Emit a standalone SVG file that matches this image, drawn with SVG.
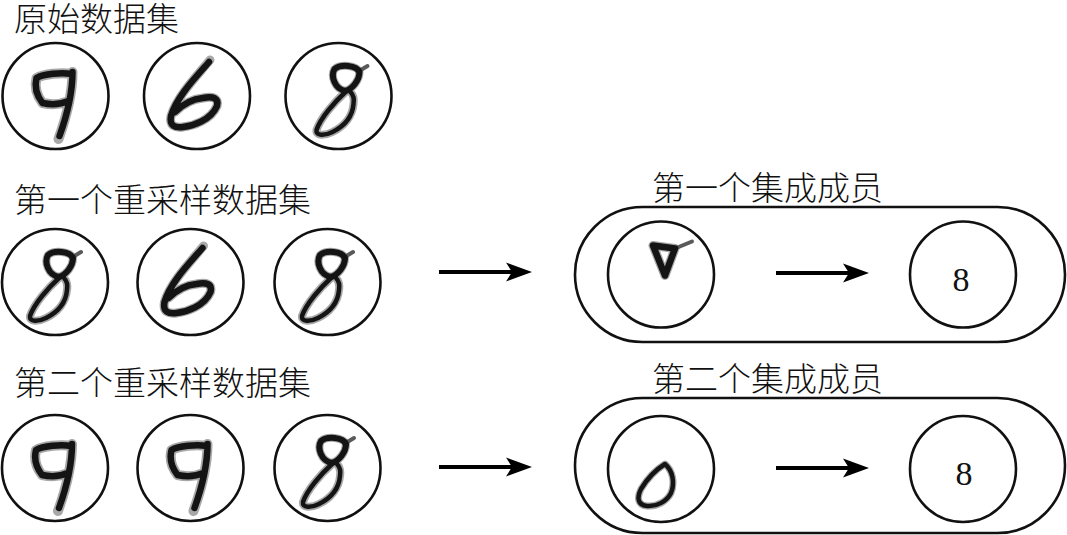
<svg xmlns="http://www.w3.org/2000/svg" xmlns:xlink="http://www.w3.org/1999/xlink" width="1067" height="535" viewBox="0 0 1067 535">
<style>
  .lbl { font-family: "Noto Sans CJK SC", "Noto Sans", sans-serif; font-size: 33px; font-weight: 300; fill: #111; }
  .num { font-family: "Liberation Serif", "Times New Roman", serif; font-size: 34px; fill: #111; text-anchor: middle; }
  .ring { fill: #fff; stroke: #111; stroke-width: 2.6; }
  .pill { fill: #fff; stroke: #111; stroke-width: 2.6; }
  .edge { stroke: #000; stroke-width: 4; fill: none; }
  .ink { fill: none; stroke: #141414; stroke-linecap: round; stroke-linejoin: round; }
  .blur { fill: none; stroke: #a8a8a8; stroke-linecap: round; stroke-linejoin: round; }
  .tail { fill: none; stroke: #5a5a5a; stroke-linecap: round; stroke-width: 4; }
</style>
<defs>
  <marker id="arrow" markerUnits="userSpaceOnUse" viewBox="0 0 26 20" markerWidth="26" markerHeight="20" refX="6" refY="10" orient="auto">
    <path d="M0,0.5 L26,10 L0,19.5 L6,10 Z" fill="#000"/>
  </marker>
  <g id="d9">
    <path class="blur" stroke-width="10" d="M16,-22 C6,-24 -12,-22 -19,-18 C-21,-10 -20,-2 -13,7 C-4,9 6,8 13,5 M17,-24 C17,-5 13,15 3,43"/>
    <path class="ink" stroke-width="6.5" d="M16,-22 C6,-24 -12,-22 -19,-18 C-21,-10 -20,-2 -13,7 C-4,9 6,8 13,5 M17,-24 C17,-5 13,15 4,40"/>
  </g>
  <g id="d6">
    <path class="blur" stroke-width="9" d="M13,-36 C0,-20 -20,0 -26,20 C-28,30 -22,32 -14,31 C-4,30 14,24 20,10 C22,2 16,0 6,2 C-4,3 -14,8 -22,16"/>
    <path class="ink" stroke-width="6.5" d="M12,-34 C0,-20 -20,0 -26,20 C-28,30 -22,32 -14,31 C-4,30 14,24 20,10 C22,2 16,0 6,2 C-4,3 -14,8 -22,16"/>
  </g>
  <g id="d8">
    <path class="blur" stroke-width="8" d="M7,-5 C-4,-7 -8,-20 -4,-27 C2,-32 18,-31 21,-24 C21,-16 14,-7 7,-5 Z M7,-4 C-4,6 -18,22 -22,34 C-23,40 -14,40 -6,36 C6,30 14,20 15,8 C16,2 14,-2 12,-4"/>
    <path class="tail" d="M19,-24 L29,-30"/>
    <path class="ink" stroke-width="6" d="M7,-5 C-4,-7 -8,-20 -4,-27 C2,-32 18,-31 21,-24 C21,-16 14,-7 7,-5 Z"/>
    <path class="ink" stroke-width="4.5" d="M7,-4 C-4,6 -18,22 -22,34 C-23,40 -14,40 -6,36 C6,30 14,20 15,8 C16,2 14,-2 12,-4"/>
  </g>
</defs>

<rect width="1067" height="535" fill="#fff"/>

<g id="labels">
  <text class="lbl" x="14" y="31">原始数据集</text>
  <text class="lbl" x="14" y="212">第一个重采样数据集</text>
  <text class="lbl" x="14" y="395">第二个重采样数据集</text>
  <text class="lbl" x="652" y="200">第一个集成成员</text>
  <text class="lbl" x="652" y="391">第二个集成成员</text>
</g>

<g id="original-1"><circle class="ring" cx="55.5" cy="96" r="53"/><use xlink:href="#d9" transform="translate(55.5,96)"/></g>
<g id="original-2"><circle class="ring" cx="197" cy="96" r="53"/><use xlink:href="#d6" transform="translate(197,96)"/></g>
<g id="original-3"><circle class="ring" cx="338.5" cy="96" r="53"/><use xlink:href="#d8" transform="translate(338.5,96)"/></g>

<g id="resample1-1"><circle class="ring" cx="55" cy="282" r="53"/><use xlink:href="#d8" transform="translate(52,282)"/></g>
<g id="resample1-2"><circle class="ring" cx="190.5" cy="282" r="53"/><use xlink:href="#d6" transform="translate(190.5,282)"/></g>
<g id="resample1-3"><circle class="ring" cx="327.5" cy="282" r="53"/><use xlink:href="#d8" transform="translate(324,282)"/></g>

<g id="resample2-1"><circle class="ring" cx="55" cy="468" r="53"/><use xlink:href="#d9" transform="translate(55,468)"/></g>
<g id="resample2-2"><circle class="ring" cx="190.5" cy="468" r="53"/><use xlink:href="#d9" transform="translate(190.5,468)"/></g>
<g id="resample2-3"><circle class="ring" cx="327.5" cy="468" r="53"/><use xlink:href="#d8" transform="translate(325,468)"/></g>

<g id="member-1">
  <rect class="pill" x="575" y="207" width="490" height="135" rx="67.5"/>
  <g id="member-1-input">
    <circle class="ring" cx="661" cy="274.5" r="53"/>
    <g transform="translate(661,274.5)">
      <path class="blur" stroke-width="9" d="M-8,-29 L14,-26 L4,1 Z"/>
      <path class="tail" d="M14,-26 L31,-33"/>
      <path class="ink" stroke-width="6.5" d="M-8,-29 L14,-26 L4,1 Z"/>
    </g>
  </g>
  <g id="member-1-output">
    <circle class="ring" cx="963" cy="274.5" r="53"/>
    <text class="num" x="961" y="291">8</text>
  </g>
</g>

<g id="member-2">
  <rect class="pill" x="575" y="398" width="490" height="135" rx="67.5"/>
  <g id="member-2-input">
    <circle class="ring" cx="661" cy="469" r="53"/>
    <g transform="translate(661,469)">
      <path class="blur" stroke-width="7" d="M4,-5 C12,2 14,14 10,24 C6,32 -4,38 -14,37 C-24,36 -24,28 -20,20 C-14,10 -4,0 4,-5 Z"/>
      <path class="ink" stroke-width="4.5" d="M4,-5 C12,2 14,14 10,24 C6,32 -4,38 -14,37 C-24,36 -24,28 -20,20 C-14,10 -4,0 4,-5 Z"/>
    </g>
  </g>
  <g id="member-2-output">
    <circle class="ring" cx="963" cy="469" r="53"/>
    <text class="num" x="964" y="485">8</text>
  </g>
</g>

<g id="connectors">
  <line class="edge" x1="439" y1="272" x2="512" y2="272" marker-end="url(#arrow)"/>
  <line class="edge" x1="439" y1="467" x2="512" y2="467" marker-end="url(#arrow)"/>
  <line class="edge" x1="776" y1="273" x2="849" y2="273" marker-end="url(#arrow)"/>
  <line class="edge" x1="776" y1="468" x2="849" y2="468" marker-end="url(#arrow)"/>
</g>
</svg>
